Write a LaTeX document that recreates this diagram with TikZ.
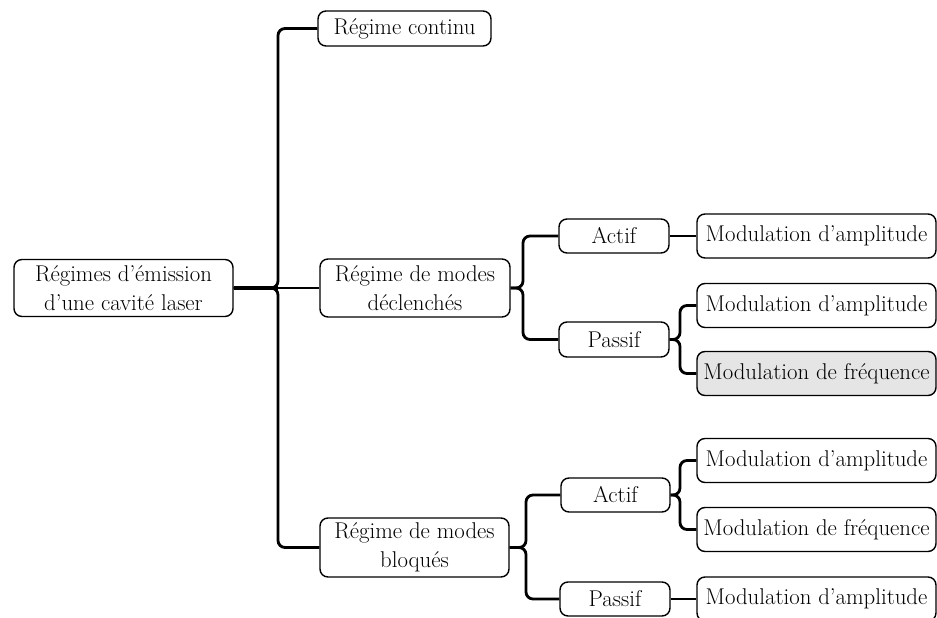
\documentclass[tikz,border=0pt]{standalone}
\usepackage{tikz}
\usetikzlibrary{positioning,calc}

\begin{document}
\begin{tikzpicture}[
    x=1pt, y=-1pt,
    box/.style={draw, rounded corners=8pt, line width=1.4pt, inner sep=0pt, align=center, font=\fontsize{22.8}{28.5}\selectfont},
    mod/.style={box, minimum width=239pt, minimum height=44pt},
    link/.style={line width=2.8pt, rounded corners=7pt},
]
    \useasboundingbox (0,0) rectangle (937,618);
    \node[box, minimum width=219pt, minimum height=57pt] (root) at (123.5,288) {Régimes d’émission\\d’une cavité laser};
    \node[box, minimum width=173pt, minimum height=35pt] (cont) at (404.5,28.5) {Régime continu};
    \node[box, minimum width=190pt, minimum height=58pt] (decl) at (415,288) {Régime de modes\\déclenchés};
    \node[box, minimum width=189pt, minimum height=59pt] (bloq) at (414.5,547.5) {Régime de modes\\bloqués};
    \node[box, minimum width=110pt, minimum height=34pt] (actA) at (614,236) {Actif};
    \node[box, minimum width=110pt, minimum height=35pt] (pasA) at (614,339.5) {Passif};
    \node[box, minimum width=109pt, minimum height=34pt] (actB) at (615.5,495) {Actif};
    \node[box, minimum width=110pt, minimum height=34pt] (pasB) at (615,599) {Passif};
    \node[mod] (modA1) at (816.5,236) {Modulation d’amplitude};
    \node[mod] (modA2) at (816.5,305.5) {Modulation d’amplitude};
    \node[mod, fill=black!10] (modA3) at (816.5,373.5) {Modulation de fréquence};
    \node[mod] (modB1) at (816.5,460.5) {Modulation d’amplitude};
    \node[mod] (modB2) at (816.5,529.5) {Modulation de fréquence};
    \node[mod] (modB3) at (816.5,599) {Modulation d’amplitude};

    \coordinate (j0) at (278,288);
    \coordinate (j1) at (523,288);
    \coordinate (j2) at (680,339.5);
    \coordinate (j3) at (526,547.5);
    \coordinate (j4) at (680,495);

    \draw[line width=4.5pt] (root.east) -- (j0);
    \draw[link] (root.east) -- (j0) |- (cont.west);
    \draw[link] (root.east) -- (decl.west);
    \draw[link] (root.east) -- (j0) |- (bloq.west);
    \draw[link] (decl.east) -- (j1) |- (actA.west);
    \draw[link] (decl.east) -- (j1) |- (pasA.west);
    \draw[link] (actA.east) -- (modA1.west);
    \draw[link] (pasA.east) -- (j2) |- (modA2.west);
    \draw[link] (pasA.east) -- (j2) |- (modA3.west);
    \draw[link] (bloq.east) -- (j3) |- (actB.west);
    \draw[link] (bloq.east) -- (j3) |- (pasB.west);
    \draw[link] (actB.east) -- (j4) |- (modB1.west);
    \draw[link] (actB.east) -- (j4) |- (modB2.west);
    \draw[link] (pasB.east) -- (modB3.west);
\end{tikzpicture}
\end{document}
